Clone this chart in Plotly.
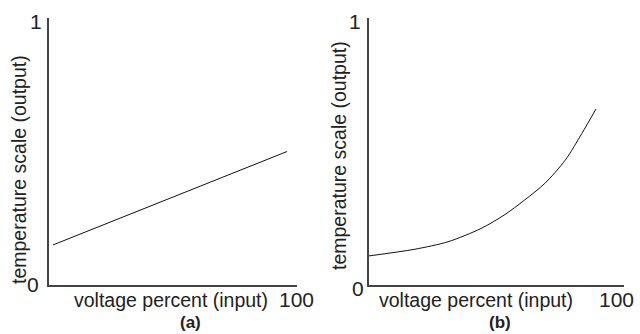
import plotly.graph_objects as go

# Panel (a): linear relation
a_x = [1.6, 96]
a_y = [0.15, 0.50]

# Panel (b): exponential-like relation
b_x = [0, 18, 31, 44, 53, 61, 69, 77, 83.5, 89]
b_y = [0.109, 0.134, 0.162, 0.212, 0.262, 0.318, 0.381, 0.468, 0.568, 0.659]

W, H = 640, 334
def px(x): return x / W
def py(y): return 1 - y / H

fig = go.Figure()
fig.add_trace(go.Scatter(x=a_x, y=a_y, mode="lines", line=dict(color="#111", width=1), xaxis="x", yaxis="y", showlegend=False))
fig.add_trace(go.Scatter(x=b_x, y=b_y, mode="lines", line=dict(color="#111", width=1, shape="spline", smoothing=0.8), xaxis="x2", yaxis="y2", showlegend=False))

axline = dict(showline=True, linecolor="#444", linewidth=1.5, showgrid=False, zeroline=False, showticklabels=False, ticks="", fixedrange=True)

fig.update_layout(
    width=W, height=H, margin=dict(l=0, r=0, t=0, b=0),
    paper_bgcolor="white", plot_bgcolor="white",
    xaxis=dict(domain=[px(49), px(297)], range=[0, 100], anchor="y", **axline),
    yaxis=dict(domain=[py(285), py(18)], range=[0, 1], anchor="x", **axline),
    xaxis2=dict(domain=[px(369), px(624)], range=[0, 100], anchor="y2", **axline),
    yaxis2=dict(domain=[py(285), py(18)], range=[0, 1], anchor="x2", **axline),
)

font_tick = dict(family="Liberation Sans, Arial", size=21, color="#222")
font_lab = dict(family="Liberation Sans, Arial", size=19.5, color="#222")
font_ylab = dict(family="Liberation Sans, Arial", size=19.5, color="#222")
font_cap = dict(family="Liberation Sans, Arial", size=17, color="#222")

ann = []
def A(text, x, y, font, angle=0, bold=False):
    ann.append(dict(text=("<b>%s</b>" % text) if bold else text, x=px(x), y=py(y), xref="paper", yref="paper",
                    showarrow=False, font=font, textangle=angle, xanchor="center", yanchor="middle"))

# panel a
A("1", 36, 21, font_tick)
A("0", 33, 284, font_tick)
A("100", 296, 299, font_tick)
A("voltage percent (input)", 171, 300, font_lab)
A("(a)", 190, 322, font_cap, bold=True)
A("temperature scale (output)", 19, 170, font_ylab, angle=-90)
# panel b
A("1", 355, 21, font_tick)
A("0", 358, 288, font_tick)
A("100", 616, 299, font_tick)
A("voltage percent (input)", 476, 300, font_lab)
A("(b)", 500, 322, font_cap, bold=True)
A("temperature scale (output)", 339, 156, font_ylab, angle=-90)

fig.update_layout(annotations=ann)
fig.write_html("out.html", config={"displayModeBar": False})

with open("out.html", "r", encoding="utf-8") as f:
    html = f.read()
html = html.replace("<head>", "<head><style>html,body{margin:0;padding:0;overflow:hidden;}</style>", 1)
with open("out.html", "w", encoding="utf-8") as f:
    f.write(html)
